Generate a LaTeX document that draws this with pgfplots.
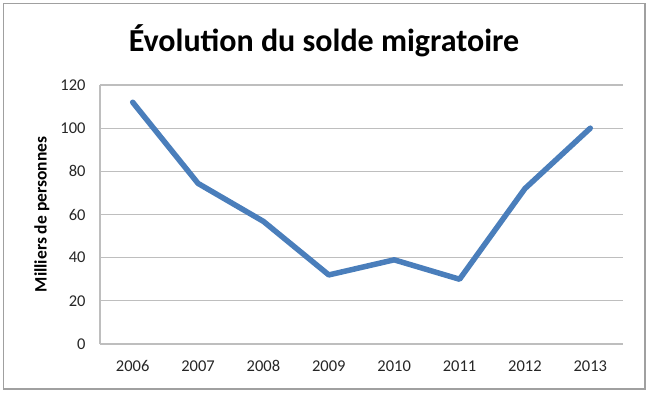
\documentclass[border=0pt]{standalone}
\usepackage{fontspec}
\setmainfont{Carlito}
\usepackage{pgfplots}
\pgfplotsset{compat=1.18}
\definecolor{serie}{HTML}{4A7EBB}
\definecolor{grille}{HTML}{BEBEBE}
\definecolor{cadre}{HTML}{A0A0A0}
\begin{document}
\begin{tikzpicture}
\useasboundingbox (0,0) rectangle (651bp,394bp);
\draw[cadre, line width=1.5bp] (3.5bp,5bp) rectangle (645bp,390.5bp);
\node[anchor=base, font=\bfseries\fontsize{32bp}{36bp}\selectfont] at (324bp,342bp) {Évolution du solde migratoire};
\begin{axis}[
  at={(100bp,50bp)}, anchor=south west,
  width=523bp, height=259bp, scale only axis,
  xmin=-0.5, xmax=7.5, ymin=0, ymax=120,
  xtick={0,...,7},
  xticklabels={2006,2007,2008,2009,2010,2011,2012,2013},
  ytick={0,20,...,120},
  /pgf/number format/assume math mode=true,
  major tick length=0pt,
  ymajorgrids,
  grid style={grille, line width=1.3bp},
  axis x line*=bottom, axis y line*=left,
  axis line style={grille, line width=1.3bp},
  tick label style={font=\fontsize{16.5bp}{18bp}\selectfont, text=black!85},
  xticklabel style={yshift=-13bp},
  yticklabel style={xshift=-11bp},
  ylabel={Milliers de personnes},
  ylabel style={at={(axis description cs:-0.111,0.5)}, anchor=center, font=\bfseries\fontsize{17.5bp}{19bp}\selectfont},
  clip=false,
]
\addplot[serie, line width=5.5bp, line join=round, line cap=round] coordinates {
  (0,112) (1,74.4) (2,56.8) (3,32) (4,39) (5,30) (6,72) (7,100)
};
\end{axis}
\end{tikzpicture}
\end{document}
